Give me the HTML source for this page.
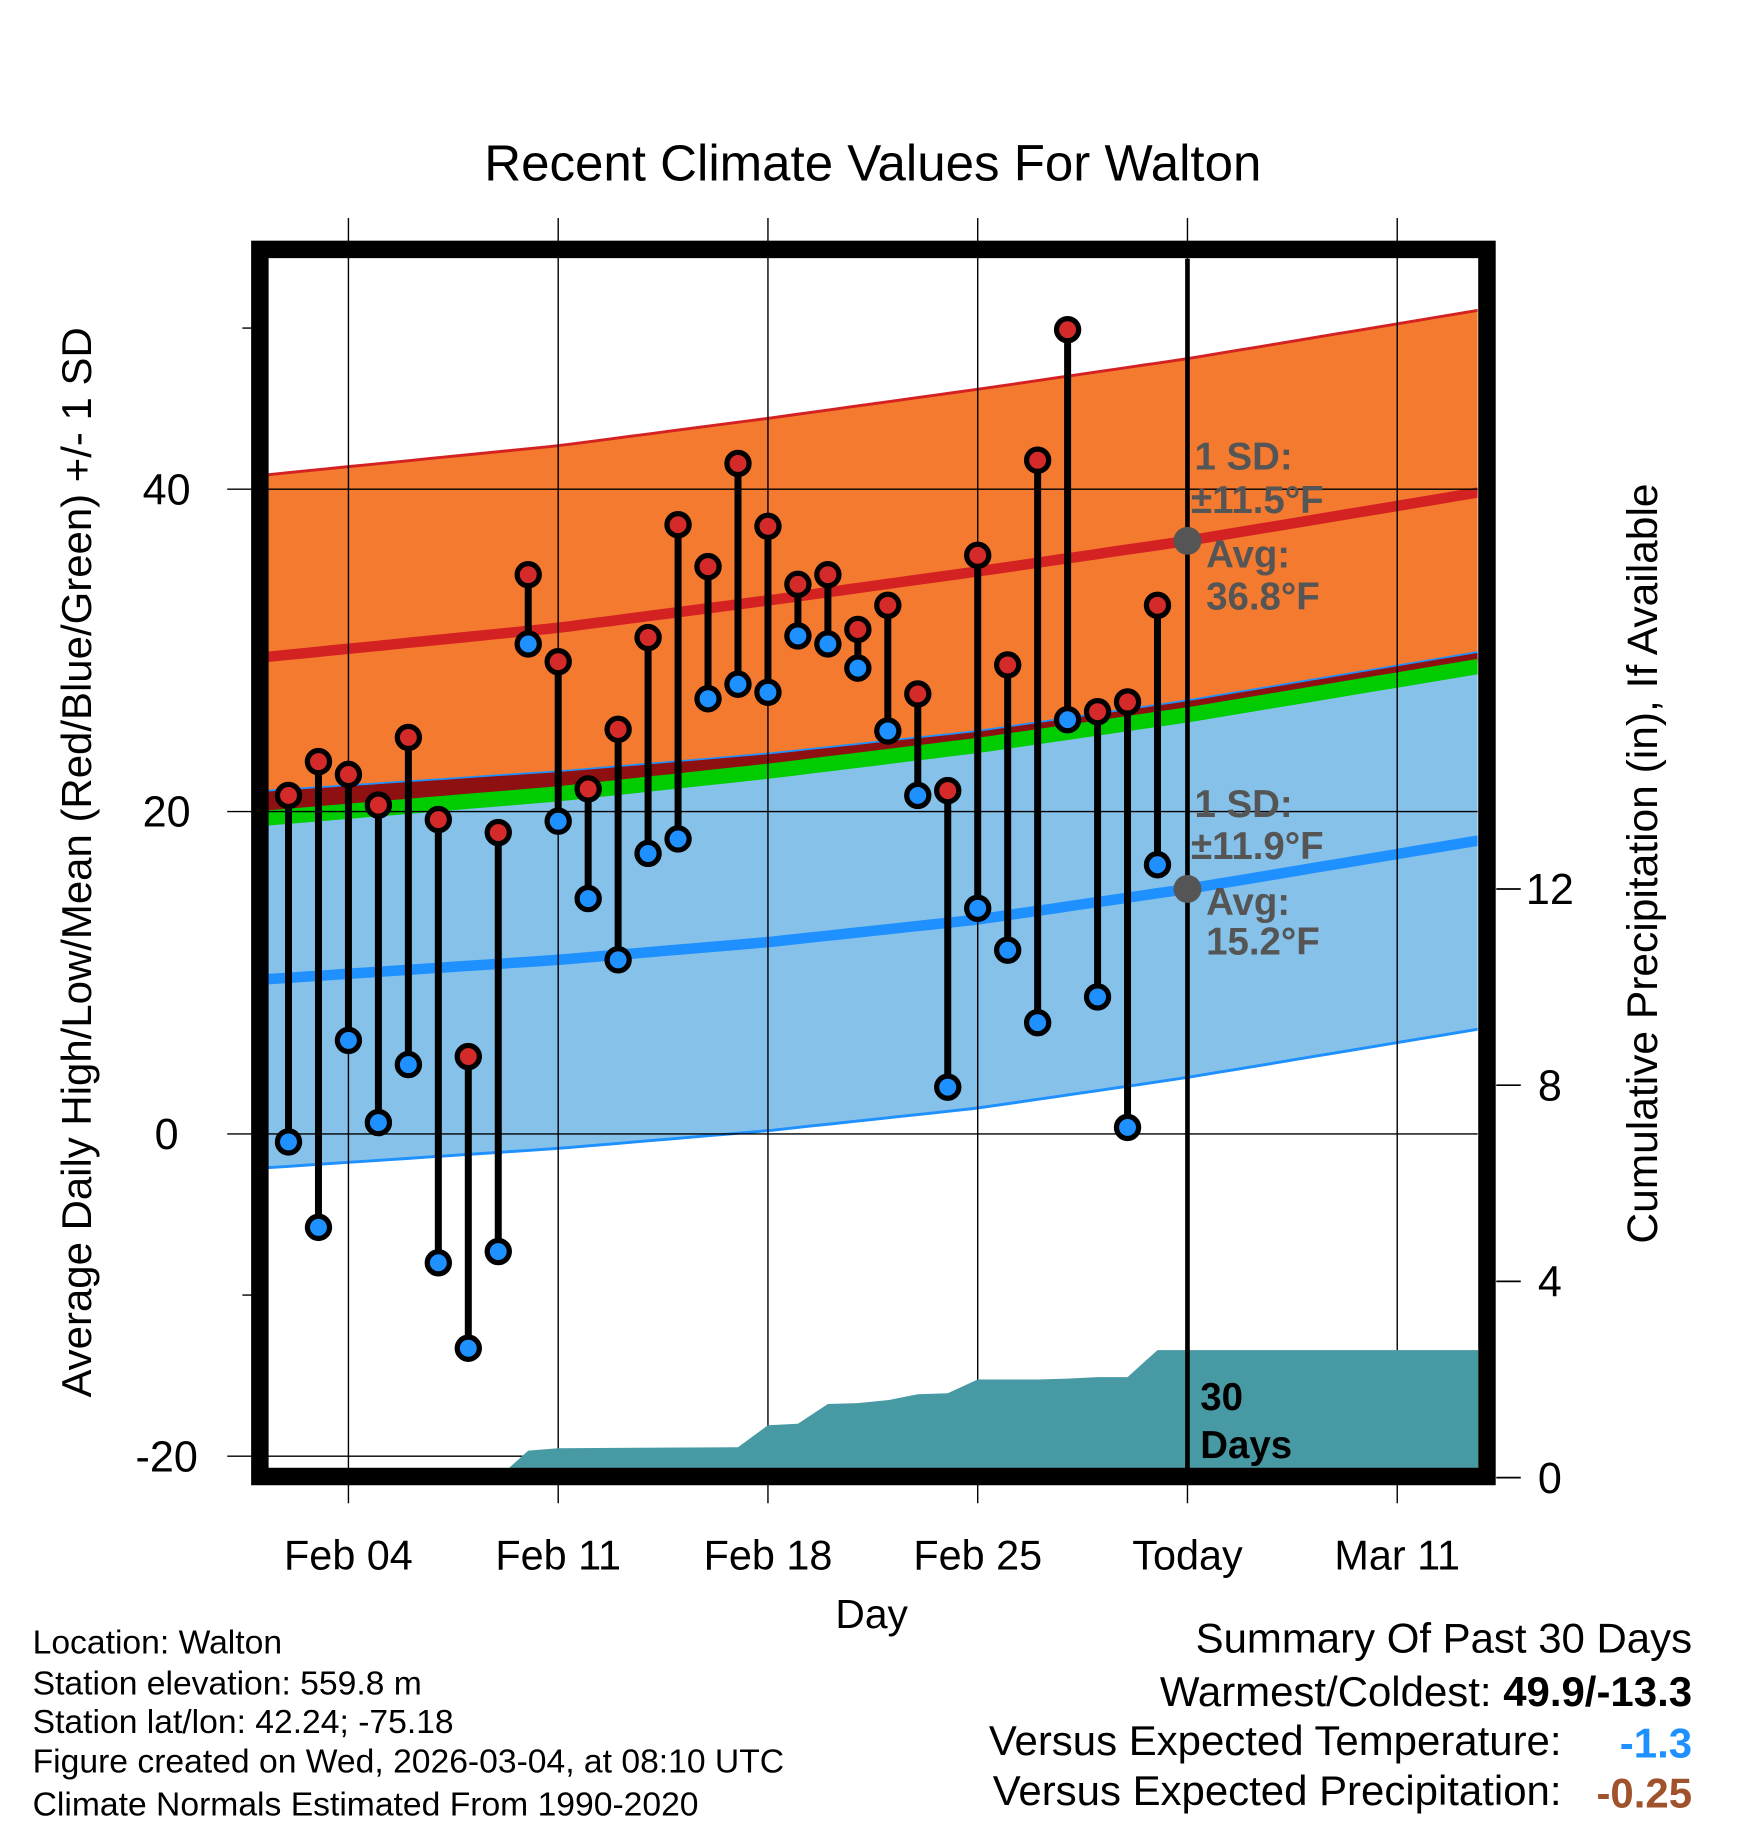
<!DOCTYPE html>
<html><head><meta charset="utf-8"><style>
html,body{margin:0;padding:0;background:#fff;}
svg{display:block;font-family:"Liberation Sans",Arial,sans-serif;}
</style></head><body>
<svg id="chart" width="1748" height="1828" viewBox="0 0 1500 1568.6" xmlns="http://www.w3.org/2000/svg">
<g id="bands"></g>
<g id="grid"></g>
<g id="precip"></g>
<g id="marks"></g>
<g id="axes"></g>
<text x="749" y="155" font-size="43.8" text-anchor="middle">Recent Climate Values For Walton</text>
<text x="748" y="1397" font-size="35" text-anchor="middle">Day</text>
<text transform="translate(78,740) rotate(-90)" font-size="36" text-anchor="middle">Average Daily High/Low/Mean (Red/Blue/Green) +/- 1 SD</text>
<text transform="translate(1422,741) rotate(-90)" font-size="36.5" text-anchor="middle">Cumulative Precipitation (in), If Available</text>
<g font-size="28.9">
<text x="28" y="1419">Location: Walton</text>
<text x="28" y="1454">Station elevation: 559.8 m</text>
<text x="28" y="1487">Station lat/lon: 42.24; -75.18</text>
<text x="28" y="1521">Figure created on Wed, 2026-03-04, at 08:10 UTC</text>
<text x="28" y="1558">Climate Normals Estimated From 1990-2020</text>
</g>
<g font-size="36">
<text x="1452" y="1418" text-anchor="end">Summary Of Past 30 Days</text>
<text x="1452" y="1464" text-anchor="end">Warmest/Coldest: <tspan font-weight="bold">49.9/-13.3</tspan></text>
<text x="1340" y="1506" text-anchor="end">Versus Expected Temperature:</text>
<text x="1452" y="1508" text-anchor="end" font-weight="bold" fill="#1e90ff">-1.3</text>
<text x="1340" y="1549" text-anchor="end">Versus Expected Precipitation:</text>
<text x="1452" y="1551" text-anchor="end" font-weight="bold" fill="#a0522d">-0.25</text>
</g>
<g id="annot" font-size="33" font-weight="bold" fill="#555"></g>
</svg>
<script>
// ---- data ----
const dayLabels = ["Feb 04","Feb 11","Feb 18","Feb 25","Today","Mar 11"];
const labelDays = [0,7,14,21,28,35];           // days since Feb 04
const obsDays = [-2,-1,0,1,2,3,4,5,6,7,8,9,10,11,12,13,14,15,16,17,18,19,20,21,22,23,24,25,26,27];
const highs = [21.0,23.1,22.3,20.4,24.6,19.5,4.8,18.7,34.7,29.3,21.4,25.1,30.8,37.8,35.2,41.6,37.7,34.1,34.7,31.3,32.8,27.3,21.3,35.9,29.1,41.8,49.9,26.2,26.8,32.8];
const lows  = [-0.5,-5.8,5.8,0.7,4.3,-8.0,-13.3,-7.3,30.4,19.4,14.6,10.8,17.4,18.3,27.0,27.9,27.4,30.9,30.4,28.9,25.0,21.0,2.9,14.0,11.4,6.9,25.7,8.5,0.4,16.7];
const normDays = [-2.7,7,14,21,28,37.7];
const normHigh = [29.6,31.4,33.1,34.9,36.8,39.8];
const normLow  = [9.6,10.8,11.9,13.3,15.2,18.2];
const sdHigh = 11.3, sdLow = 11.7;
const precipDays = [-2.7,5,6,7,13,14,15,16,17,18,19,20,21,22,23,24,25,26,27,28,37.7];
const precipCum  = [0,0,0.55,0.6,0.62,1.07,1.1,1.5,1.52,1.58,1.7,1.72,2.0,2.0,2.0,2.02,2.05,2.05,2.6,2.6,2.6];
const yTicks = [40,20,0,-20];
const yMinor = [50,-10];
const pTicks = [0,4,8,12];

// ---- scales ----
const X0=230,X1=1268,Y0=222,Y1=1260;
const x = d => 299 + d*25.714;
const y = t => 973 - t*13.83;
const yp = p => 1268 - p*42.1;
const NS="http://www.w3.org/2000/svg";
function mk(tag, attrs, parent){const e=document.createElementNS(NS,tag);for(const k in attrs)e.setAttribute(k,attrs[k]);parent.appendChild(e);return e;}
function interp(xs,ys,d){for(let i=0;i<xs.length-1;i++){if(d<=xs[i+1]){const f=(d-xs[i])/(xs[i+1]-xs[i]);return ys[i]+f*(ys[i+1]-ys[i]);}}return ys[ys.length-1];}
const samples=[];for(let i=0;i<=60;i++)samples.push(-2.7+i*(40.4/60));
function curve(fn){return samples.map(d=>[x(d),fn(d)]);}
function pts(a){return a.map(p=>p[0].toFixed(1)+","+p[1].toFixed(1)).join(" ");}
const hi=d=>interp(normDays,normHigh,d), lo=d=>interp(normDays,normLow,d);

const bands=document.getElementById('bands');
const hiTop=curve(d=>y(hi(d)+sdHigh)), loTop=curve(d=>y(lo(d)+sdLow)), loBot=curve(d=>y(lo(d)-sdLow));
const mean=curve(d=>y((hi(d)+lo(d))/2));
let e;
e=mk('polygon',{points:pts(hiTop.concat(loTop.slice().reverse())),fill:'#f47a30'},bands);

e=mk('polygon',{points:pts(loTop.concat(mean.slice().reverse())),fill:'#8e1010'},bands);

e=mk('polygon',{points:pts(mean.concat(loBot.slice().reverse())),fill:'#85c1e9'},bands);

e=mk('polyline',{points:pts(hiTop),fill:'none',stroke:'#d42222','stroke-width':2.5},bands);

e=mk('polyline',{points:pts(loTop),fill:'none',stroke:'#1e90ff','stroke-width':1.5},bands);

e=mk('polyline',{points:pts(loBot),fill:'none',stroke:'#1e90ff','stroke-width':2.5},bands);

e=mk('polyline',{points:pts(mean),fill:'none',stroke:'#00cc00','stroke-width':13},bands);

e=mk('polyline',{points:pts(curve(d=>y(hi(d)))),fill:'none',stroke:'#d42222','stroke-width':9},bands);

e=mk('polyline',{points:pts(curve(d=>y(lo(d)))),fill:'none',stroke:'#1e90ff','stroke-width':9},bands);

const clipL=mk('rect',{x:0,y:0,width:X0,height:1400,fill:'#fff'},bands);

const clipR=mk('rect',{x:X1,y:0,width:300,height:1400,fill:'#fff'},bands);


// grid
const grid=document.getElementById('grid');
labelDays.forEach((d,i)=>{
  const g=mk('line',{x1:x(d),x2:x(d),y1:187,y2:1290,stroke:'#000','stroke-width':1.2},grid);
  
});
yTicks.forEach(t=>{
  const g=mk('line',{x1:195,x2:X1,y1:y(t),y2:y(t),stroke:'#000','stroke-width':1.2},grid);
  
});

// precip
const pg=document.getElementById('precip');
const pp=precipDays.map((d,i)=>[x(d),yp(precipCum[i])]);
pp.push([x(37.7),Y1+2]);pp.push([x(-2.7),Y1+2]);
e=mk('polygon',{points:pts(pp),fill:'#479aa3'},pg);

e=mk('line',{x1:x(28),x2:x(28),y1:Y0,y2:Y1,stroke:'#000','stroke-width':4},pg);


// marks
const mg=document.getElementById('marks');
obsDays.forEach((d,i)=>{
  const s=mk('line',{x1:x(d),x2:x(d),y1:y(highs[i]),y2:y(lows[i]),stroke:'#000','stroke-width':6},mg);
  
});
obsDays.forEach((d,i)=>{
  const h=mk('circle',{cx:x(d),cy:y(highs[i]),r:9.5,fill:'#d42a2a',stroke:'#000','stroke-width':4.5},mg);
  
  const l=mk('circle',{cx:x(d),cy:y(lows[i]),r:9.5,fill:'#1e90ff',stroke:'#000','stroke-width':4.5},mg);
  
});

// axes
const ax=document.getElementById('axes');
e=mk('rect',{x:223,y:214,width:1053,height:1053,fill:'none',stroke:'#000','stroke-width':15},ax);

yTicks.forEach(t=>{
  const l=mk('text',{x:143,y:y(t)+13,'font-size':37,'text-anchor':'middle'},ax);l.textContent=String(t);
  
});
yMinor.forEach(t=>{
  const l=mk('line',{x1:208,x2:216,y1:y(t),y2:y(t),stroke:'#000','stroke-width':1.2},ax);
  
});
pTicks.forEach(p=>{
  const l=mk('line',{x1:1284,x2:1305,y1:yp(p),y2:yp(p),stroke:'#000','stroke-width':1.5},ax);
  
  const t=mk('text',{x:1330,y:yp(p)+13,'font-size':37,'text-anchor':'middle'},ax);t.textContent=String(p);
  
});
dayLabels.forEach((s,i)=>{
  const t=mk('text',{x:x(labelDays[i]),y:1347,'font-size':35.5,'text-anchor':'middle'},ax);t.textContent=s;
  
});

// annotations
const an=document.getElementById('annot');
function txt(s,xx,yy,fill){const t=mk('text',{x:xx,y:yy},an);t.textContent=s;if(fill)t.setAttribute('fill',fill);
 return t;}
const tx=x(28);
e=mk('circle',{cx:tx,cy:y(hi(28)),r:12,fill:'#555'},an);

e=mk('circle',{cx:tx,cy:y(lo(28)),r:12,fill:'#555'},an);

txt("1 SD:",1025,403);txt("±11.5°F",1022,440);txt("Avg:",1035,487);txt("36.8°F",1035,523);
txt("1 SD:",1025,701);txt("±11.9°F",1022,737);txt("Avg:",1035,785);txt("15.2°F",1035,819);
txt("30",1030,1210,'#000');txt("Days",1030,1251,'#000');
</script>
</body></html>
